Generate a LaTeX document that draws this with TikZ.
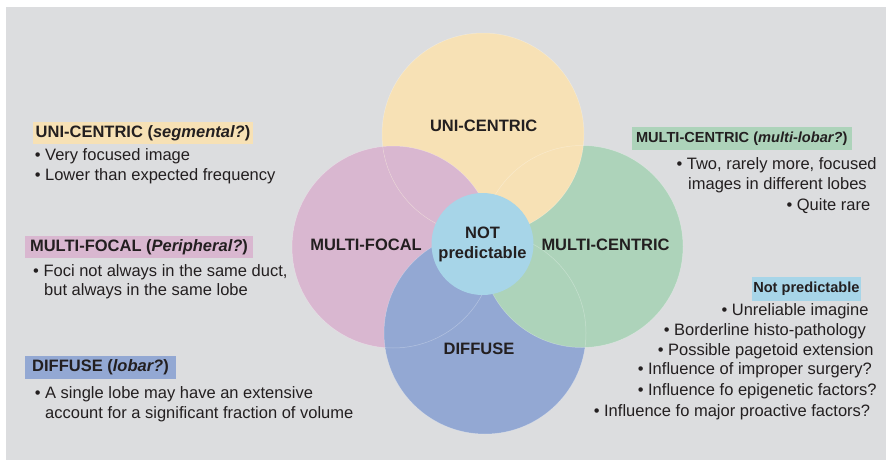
\documentclass[tikz,border=0pt]{standalone}
\usepackage{xcolor}
\usepackage{tikz}
\usepackage{fontspec}
\setmainfont{Liberation Sans}

\definecolor{unicol}{HTML}{F7E1B5}
\definecolor{focalcol}{HTML}{D9B7D0}
\definecolor{centcol}{HTML}{ADD3BA}
\definecolor{diffcol}{HTML}{93A8D3}
\definecolor{notcol}{HTML}{A7D5E8}
\definecolor{panel}{HTML}{DCDDDF}
\definecolor{ink}{HTML}{231F20}

\newcommand{\figsize}{\fontsize{16.5}{20}\selectfont}
\newcommand{\headsize}{\fontsize{14.6}{18}\selectfont}

\tikzset{
  venntext/.style={font=\figsize\bfseries, text=ink, align=center, inner sep=0pt},
  headbox/.style={font=\figsize\bfseries, text=ink, inner sep=0pt, minimum height=22pt},
  smallhead/.style={headbox, font=\headsize\bfseries},
  itemtext/.style={font=\figsize, text=ink, anchor=base west, inner sep=0pt},
  rim/.style={draw=white, draw opacity=0.3, line width=0.5pt}
}

\begin{document}
\begin{tikzpicture}[x=1pt, y=-1pt]
        % Fix the page and draw the grey panel
        \useasboundingbox (0,0) rectangle (886,460);
        \fill[white] (0,0) rectangle (886,460);
        \fill[panel] (6,7) rectangle (886,460);

        % Draw the four circles, each one lying over the next
        \fill[focalcol] (393,247) circle (101pt);
        \fill[diffcol] (485,333) circle (101pt);
        \fill[centcol] (582,246.5) circle (101pt);
        \fill[unicol] (483,134) circle (101pt);
        \begin{scope}
            \clip (483,134) circle (101pt);
            \fill[focalcol] (393,247) circle (101pt);
        \end{scope}

        % Faint rims seen through the circles
        \draw[rim] (393,247) circle (101pt);
        \draw[rim] (485,333) circle (101pt);
        \draw[rim] (582,246.5) circle (101pt);
        \draw[rim] (483,134) circle (101pt);

        % Centre circle and the circle labels
        \node[venntext, circle, fill=notcol, minimum size=102pt] (notpred) at (482.5,244) {NOT\\predictable};
        \node[venntext] (uni) at (483.7,126) {UNI-CENTRIC};
        \node[venntext] (focal) at (366,245) {MULTI-FOCAL};
        \node[venntext] (centric) at (605.5,245) {MULTI-CENTRIC};
        \node[venntext] (diffuse) at (479,349) {DIFFUSE};

        % Left column
        \node[headbox, fill=unicol, minimum width=220pt] (unihead) at (143,133) {UNI-CENTRIC (\textit{segmental?})};
        \node[itemtext] (uni1) at (34.6,160) {\textbullet\ Very focused image};
        \node[itemtext] (uni2) at (34.6,180) {\textbullet\ Lower than expected frequency};

        \node[headbox, fill=focalcol, minimum width=228pt] (focalhead) at (139,247) {MULTI-FOCAL (\textit{Peripheral?})};
        \node[itemtext] (focal1) at (33,276.7) {\textbullet\ Foci not always in the same duct,};
        \node[itemtext] (focal2) at (44,295.7) {but always in the same lobe};

        \node[headbox, fill=diffcol, minimum width=151pt, minimum height=23pt] (diffhead) at (100.5,367.5) {DIFFUSE (\textit{lobar?})};
        \node[itemtext] (diff1) at (34.6,398) {\textbullet\ A single lobe may have an extensive};
        \node[itemtext] (diff2) at (45,418) {account for a significant fraction of volume};

        % Right column
        \node[smallhead, fill=centcol, minimum width=220pt, minimum height=23pt] (centhead) at (741.7,138.5) {MULTI-CENTRIC (\textit{multi-lobar?})};
        \node[itemtext] (cent1) at (676.3,169) {\textbullet\ Two, rarely more, focused};
        \node[itemtext] (cent2) at (688,189) {images in different lobes};
        \node[itemtext] (cent3) at (786.3,210) {\textbullet\ Quite rare};

        \node[smallhead, fill=notcol, minimum width=109pt, minimum height=23.5pt] (nothead) at (806.4,288.8) {Not predictable};
        \node[itemtext] (not1) at (721.3,315) {\textbullet\ Unreliable imagine};
        \node[itemtext] (not2) at (663.6,335) {\textbullet\ Borderline histo-pathology};
        \node[itemtext] (not3) at (657.6,355) {\textbullet\ Possible pagetoid extension};
        \node[itemtext] (not4) at (637.6,374) {\textbullet\ Influence of improper surgery?};
        \node[itemtext] (not5) at (637.6,395) {\textbullet\ Influence fo epigenetic factors?};
        \node[itemtext] (not6) at (593.6,416) {\textbullet\ Influence fo major proactive factors?};
\end{tikzpicture}
\end{document}
